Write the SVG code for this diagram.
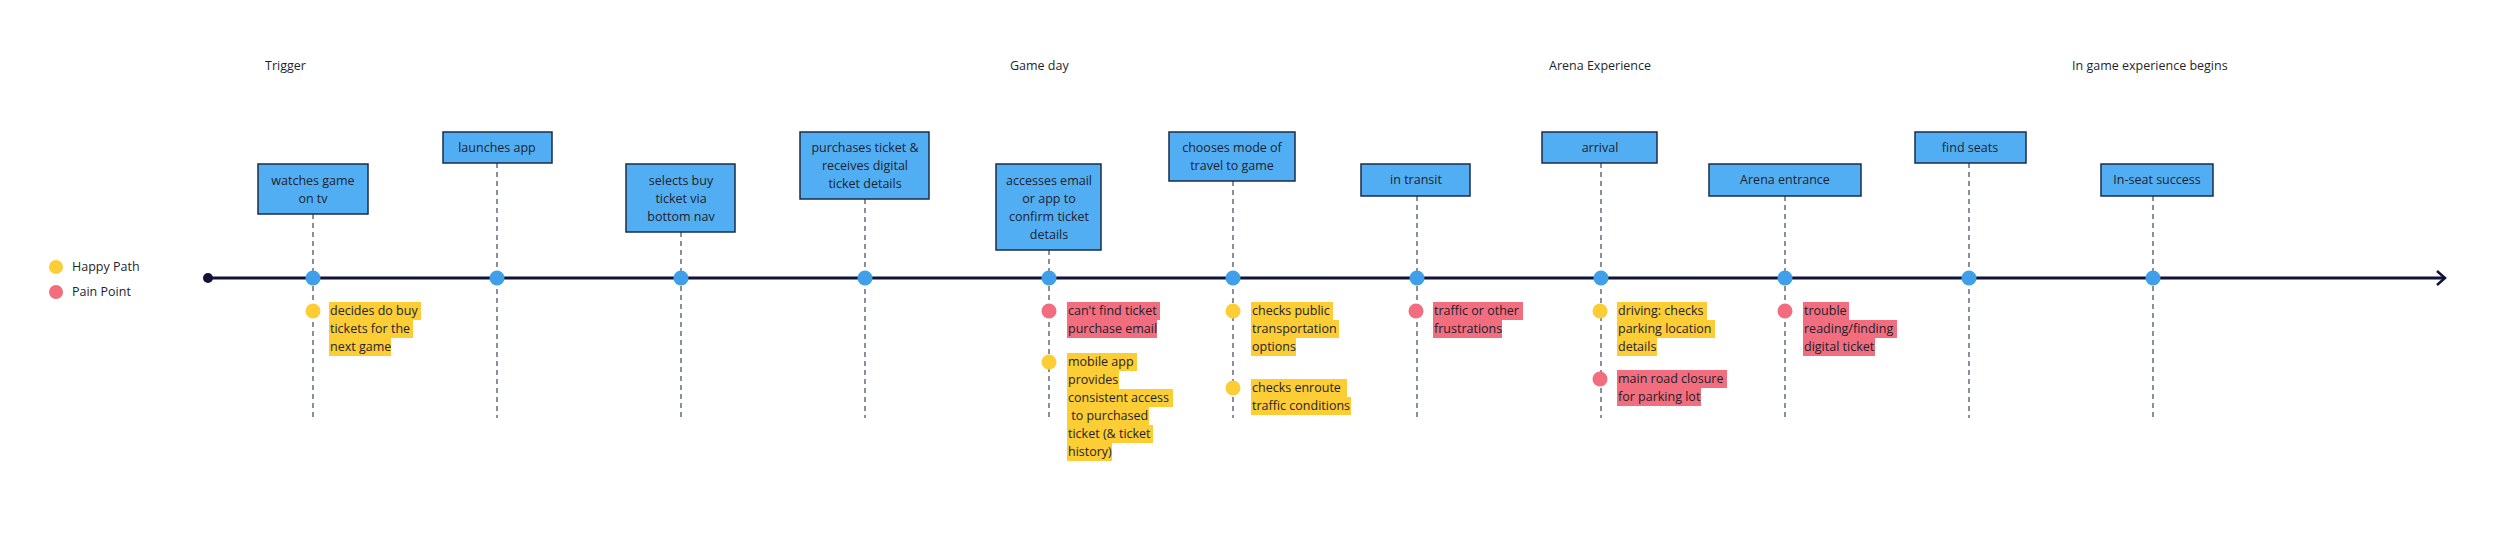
<svg xmlns="http://www.w3.org/2000/svg" width="2500" height="534" viewBox="0 0 2500 534">
<style>
text{font-family:"Open Sans","Liberation Sans",sans-serif;font-size:12.5px;fill:#1f1f2e}
.box{fill:#52aef2;stroke:#1b2b48;stroke-width:1.5}
.bt{text-anchor:middle}
.dash{stroke:#3a4660;stroke-width:1.2;stroke-dasharray:5 4}
.dot{fill:#3f9fe8}
.y{fill:#fccd34}
.r{fill:#f26d7d}
</style>
<rect width="2500" height="534" fill="#fff"/>
<g id="headers">
<text x="265" y="70">Trigger</text>
<text x="1010" y="70">Game day</text>
<text x="1549" y="70">Arena Experience</text>
<text x="2072" y="70">In game experience begins</text>
</g>
<g id="legend">
<circle cx="56" cy="267" r="7" class="y"/><text x="72" y="271">Happy Path</text>
<circle cx="56" cy="292" r="7" class="r"/><text x="72" y="296">Pain Point</text>
</g>
<g id="connectors">
<line class="dash" x1="313" y1="214" x2="313" y2="418"/>
<line class="dash" x1="497" y1="163" x2="497" y2="418"/>
<line class="dash" x1="681" y1="232" x2="681" y2="418"/>
<line class="dash" x1="865" y1="199" x2="865" y2="418"/>
<line class="dash" x1="1049" y1="250" x2="1049" y2="418"/>
<line class="dash" x1="1233" y1="181" x2="1233" y2="418"/>
<line class="dash" x1="1417" y1="196" x2="1417" y2="418"/>
<line class="dash" x1="1601" y1="163" x2="1601" y2="418"/>
<line class="dash" x1="1785" y1="196" x2="1785" y2="418"/>
<line class="dash" x1="1969" y1="163" x2="1969" y2="418"/>
<line class="dash" x1="2153" y1="196" x2="2153" y2="418"/>
<line x1="208" y1="278" x2="2444" y2="278" stroke="#10123a" stroke-width="3"/>
<polyline points="2437,271 2445,278 2437,285" fill="none" stroke="#10123a" stroke-width="2.5"/>
<circle cx="208" cy="278" r="5" fill="#10123a"/>
<circle class="dot" cx="313" cy="278" r="7.5"/><circle class="dot" cx="497" cy="278" r="7.5"/><circle class="dot" cx="681" cy="278" r="7.5"/><circle class="dot" cx="865" cy="278" r="7.5"/><circle class="dot" cx="1049" cy="278" r="7.5"/><circle class="dot" cx="1233" cy="278" r="7.5"/><circle class="dot" cx="1417" cy="278" r="7.5"/><circle class="dot" cx="1601" cy="278" r="7.5"/><circle class="dot" cx="1785" cy="278" r="7.5"/><circle class="dot" cx="1969" cy="278" r="7.5"/><circle class="dot" cx="2153" cy="278" r="7.5"/>
</g>
<g id="n1"><rect class="box" x="258" y="164" width="110" height="50"/><text class="bt" x="313" y="185">watches game</text><text class="bt" x="313" y="203">on tv</text></g>
<g id="n2"><rect class="box" x="443" y="132" width="109" height="31"/><text class="bt" x="497" y="152">launches app</text></g>
<g id="n3"><rect class="box" x="626" y="164" width="109" height="68"/><text class="bt" x="681" y="185">selects buy</text><text class="bt" x="681" y="203">ticket via</text><text class="bt" x="681" y="221">bottom nav</text></g>
<g id="n4"><rect class="box" x="800" y="132" width="129" height="67"/><text class="bt" x="865" y="152">purchases ticket &amp;</text><text class="bt" x="865" y="170">receives digital</text><text class="bt" x="865" y="188">ticket details</text></g>
<g id="n5"><rect class="box" x="996" y="164" width="105" height="86"/><text class="bt" x="1049" y="185">accesses email</text><text class="bt" x="1049" y="203">or app to</text><text class="bt" x="1049" y="221">confirm ticket</text><text class="bt" x="1049" y="239">details</text></g>
<g id="n6"><rect class="box" x="1169" y="132" width="126" height="49"/><text class="bt" x="1232" y="152">chooses mode of</text><text class="bt" x="1232" y="170">travel to game</text></g>
<g id="n7"><rect class="box" x="1361" y="164" width="109" height="32"/><text class="bt" x="1416" y="184">in transit</text></g>
<g id="n8"><rect class="box" x="1542" y="132" width="115" height="31"/><text class="bt" x="1600" y="152">arrival</text></g>
<g id="n9"><rect class="box" x="1709" y="164" width="152" height="32"/><text class="bt" x="1785" y="184">Arena entrance</text></g>
<g id="n10"><rect class="box" x="1915" y="132" width="111" height="31"/><text class="bt" x="1970" y="152">find seats</text></g>
<g id="n11"><rect class="box" x="2101" y="164" width="112" height="32"/><text class="bt" x="2157" y="184">In-seat success</text></g>
<g id="note1"><circle class="y" cx="313" cy="311" r="7.5"/>
<rect class="y" x="329" y="302" width="92" height="18"/><rect class="y" x="329" y="320" width="84" height="18"/><rect class="y" x="329" y="338" width="62" height="18"/>
<text x="330" y="315">decides do buy</text><text x="330" y="333">tickets for the</text><text x="330" y="351">next game</text></g>
<g id="note2"><circle class="r" cx="1049" cy="311" r="7.5"/>
<rect class="r" x="1067" y="302" width="93" height="18"/><rect class="r" x="1067" y="320" width="90" height="18"/>
<text x="1068" y="315">can't find ticket</text><text x="1068" y="333">purchase email</text></g>
<g id="note3"><circle class="y" cx="1049" cy="362" r="7.5"/>
<rect class="y" x="1067" y="353" width="70" height="18"/><rect class="y" x="1067" y="371" width="52" height="18"/><rect class="y" x="1067" y="389" width="106" height="18"/><rect class="y" x="1067" y="407" width="82" height="18"/><rect class="y" x="1067" y="425" width="86" height="18"/><rect class="y" x="1067" y="443" width="45" height="18"/>
<text x="1068" y="366">mobile app</text><text x="1068" y="384">provides</text><text x="1068" y="402">consistent access</text><text x="1068" y="420" xml:space="preserve"> to purchased</text><text x="1068" y="438">ticket (&amp; ticket</text><text x="1068" y="456">history)</text></g>
<g id="note4"><circle class="y" cx="1233" cy="311" r="7.5"/>
<rect class="y" x="1251" y="302" width="82" height="18"/><rect class="y" x="1251" y="320" width="88" height="18"/><rect class="y" x="1251" y="338" width="45" height="18"/>
<text x="1252" y="315">checks public</text><text x="1252" y="333">transportation</text><text x="1252" y="351">options</text></g>
<g id="note5"><circle class="y" cx="1233" cy="388" r="7.5"/>
<rect class="y" x="1251" y="379" width="96" height="18"/><rect class="y" x="1251" y="397" width="100" height="18"/>
<text x="1252" y="392">checks enroute</text><text x="1252" y="410">traffic conditions</text></g>
<g id="note6"><circle class="r" cx="1416" cy="311" r="7.5"/>
<rect class="r" x="1433" y="302" width="90" height="18"/><rect class="r" x="1433" y="320" width="69" height="18"/>
<text x="1434" y="315">traffic or other</text><text x="1434" y="333">frustrations</text></g>
<g id="note7"><circle class="y" cx="1600" cy="311" r="7.5"/>
<rect class="y" x="1617" y="302" width="90" height="18"/><rect class="y" x="1617" y="320" width="98" height="18"/><rect class="y" x="1617" y="338" width="40" height="18"/>
<text x="1618" y="315">driving: checks</text><text x="1618" y="333">parking location</text><text x="1618" y="351">details</text></g>
<g id="note8"><circle class="r" cx="1600" cy="379" r="7.5"/>
<rect class="r" x="1617" y="370" width="110" height="18"/><rect class="r" x="1617" y="388" width="84" height="18"/>
<text x="1618" y="383">main road closure</text><text x="1618" y="401">for parking lot</text></g>
<g id="note9"><circle class="r" cx="1785" cy="311" r="7.5"/>
<rect class="r" x="1803" y="302" width="46" height="18"/><rect class="r" x="1803" y="320" width="94" height="18"/><rect class="r" x="1803" y="338" width="72" height="18"/>
<text x="1804" y="315">trouble</text><text x="1804" y="333">reading/finding</text><text x="1804" y="351">digital ticket</text></g>
</svg>
